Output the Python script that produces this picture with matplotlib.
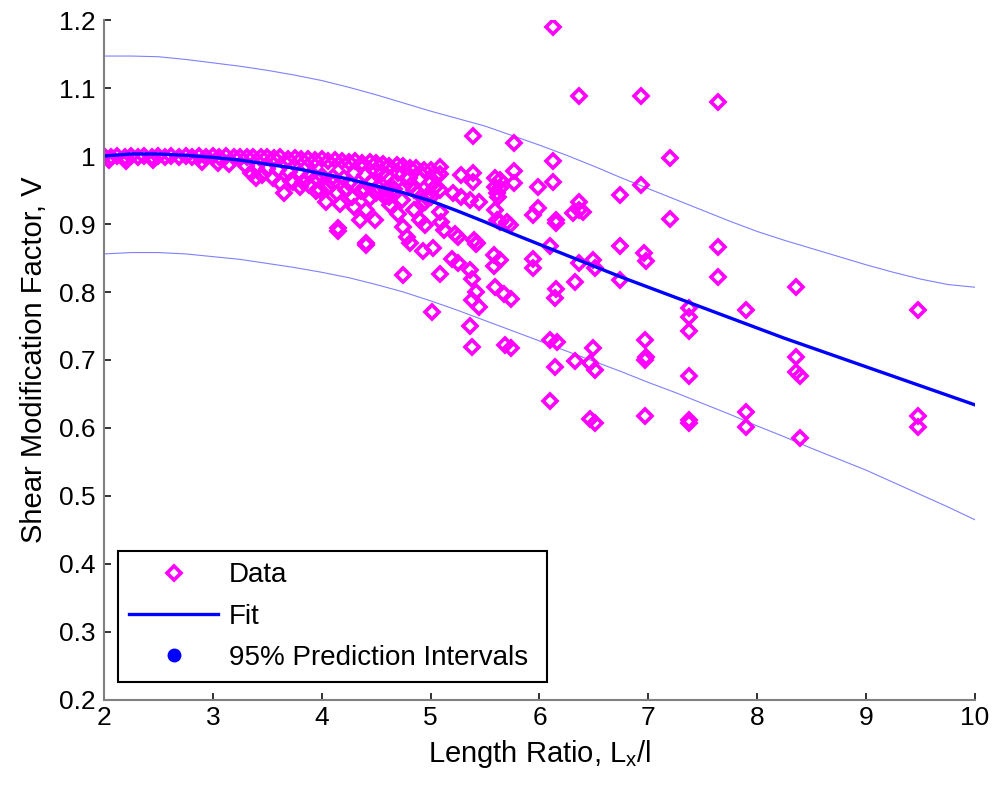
#!/usr/bin/env python3

import matplotlib
matplotlib.use('Agg')
import matplotlib.pyplot as plt
from matplotlib.lines import Line2D

# dense band of points close to V = 1
dense_x = [2.00, 2.06, 2.12, 2.19, 2.25, 2.31, 2.37, 2.44, 2.50, 2.56, 2.62, 2.69, 2.75,
           2.81, 2.87, 2.94, 3.00, 3.06, 3.12, 3.19, 3.25, 3.31, 3.37, 3.44, 3.50, 3.56,
           3.62, 3.69, 3.75, 3.81, 3.87, 3.94, 4.00, 4.06, 4.12, 4.19, 4.25, 4.31, 4.37,
           4.44, 4.50, 4.56, 4.62, 4.69, 4.75, 4.81, 4.87, 4.94, 5.00,
           2.05, 2.20, 2.45, 2.90, 3.05, 3.15, 3.30, 3.40, 3.50, 3.60, 3.70, 3.80, 3.90,
           4.00, 4.10, 4.20, 4.30, 4.40, 4.50, 4.60, 4.70, 4.80, 4.90, 5.00, 5.05,
           3.35, 3.45, 3.55, 3.62, 3.72, 3.80, 3.88, 3.98, 4.06, 4.14, 4.22, 4.28, 4.36,
           4.44, 4.52, 4.58, 4.66, 4.74, 4.82, 4.88, 4.96, 5.04,
           4.25, 4.45, 4.55, 4.68, 4.85, 4.92, 4.30, 4.70, 4.85, 4.95, 5.00, 4.62, 4.40,
           4.10, 3.95]
dense_y = [1.000, 0.999, 1.000, 0.998, 1.000, 0.999, 1.000, 0.998, 1.000, 0.999, 1.000, 0.999, 1.000,
           0.999, 1.000, 0.998, 1.000, 0.999, 1.000, 0.998, 0.999, 0.999, 0.998, 0.999, 0.998, 0.997,
           0.998, 0.996, 0.997, 0.995, 0.996, 0.994, 0.995, 0.993, 0.994, 0.992, 0.991, 0.992, 0.990,
           0.991, 0.989, 0.988, 0.986, 0.987, 0.985, 0.983, 0.982, 0.980, 0.979,
           0.994, 0.993, 0.994, 0.991, 0.990, 0.988, 0.985, 0.983, 0.981, 0.979, 0.977, 0.975, 0.973,
           0.971, 0.969, 0.967, 0.975, 0.972, 0.978, 0.970, 0.975, 0.968, 0.966, 0.962, 0.970,
           0.975, 0.972, 0.968, 0.960, 0.963, 0.955, 0.958, 0.950, 0.955, 0.945, 0.950, 0.940, 0.948,
           0.938, 0.955, 0.940, 0.952, 0.935, 0.958, 0.945, 0.940, 0.955,
           0.960, 0.962, 0.975, 0.962, 0.950, 0.930, 0.925, 0.915, 0.920, 0.932, 0.940, 0.940, 0.950,
           0.960, 0.968]

# scattered points
scatter_x = [3.65, 3.95, 4.04, 4.17, 4.15, 4.35, 4.49, 4.41, 4.41, 4.63, 3.74, 3.83, 3.40,
             4.50, 4.60, 4.15,
             5.77, 5.39, 5.77, 5.77, 5.64, 5.64, 5.09, 5.09, 5.28, 5.39, 5.39, 5.59, 5.59,
             5.61, 5.62, 5.09, 5.21, 5.28, 5.36, 5.44, 5.59, 5.61, 5.64, 5.70, 5.73, 4.75,
             4.78, 4.81, 4.90, 4.95, 5.09, 5.10, 5.12, 5.22, 5.25, 5.40, 5.43, 5.42, 4.93,
             5.02, 5.20, 5.25, 5.58, 5.64, 4.75, 5.09, 5.36, 5.38, 5.42, 5.38, 5.44, 5.59,
             5.67, 5.74, 5.01, 5.36, 5.38, 5.68, 5.74, 4.41, 5.58,
             6.12, 6.36, 6.93, 7.64, 7.20, 6.12, 6.12, 5.99, 6.93, 6.74, 6.36, 6.36, 6.31,
             6.40, 5.99, 5.94, 6.15, 6.15, 7.20, 6.10, 5.94, 5.94, 6.74, 6.96, 6.98, 7.64,
             7.64, 6.36, 6.49, 6.51, 6.74, 6.33, 6.15, 6.14, 8.36, 7.90, 9.48, 7.37, 7.37,
             7.37, 6.10, 6.16, 6.97, 6.49, 6.33, 6.46, 6.51, 6.14, 6.97, 6.98, 8.36, 8.36,
             8.39, 7.37, 6.10, 6.97, 6.46, 6.51, 7.37, 7.37, 7.90, 7.90, 8.39, 9.48, 9.48]
scatter_y = [0.945, 0.948, 0.933, 0.930, 0.894, 0.906, 0.906, 0.921, 0.872, 0.928, 0.962, 0.962, 0.967,
             0.945, 0.950, 0.889,
             1.019, 1.030, 0.978, 0.961, 0.965, 0.953, 0.984, 0.974, 0.972, 0.975, 0.962, 0.967, 0.954,
             0.946, 0.940, 0.950, 0.946, 0.940, 0.935, 0.932, 0.921, 0.906, 0.903, 0.903, 0.898, 0.896,
             0.881, 0.872, 0.906, 0.898, 0.918, 0.903, 0.891, 0.886, 0.881, 0.876, 0.872, 0.870, 0.861,
             0.864, 0.848, 0.842, 0.838, 0.847, 0.825, 0.827, 0.832, 0.819, 0.800, 0.788, 0.778, 0.808,
             0.797, 0.790, 0.771, 0.750, 0.719, 0.722, 0.717, 0.869, 0.854,
             1.189, 1.088, 1.088, 1.080, 0.997, 0.992, 0.962, 0.955, 0.957, 0.942, 0.932, 0.921, 0.916,
             0.918, 0.923, 0.913, 0.906, 0.901, 0.907, 0.868, 0.849, 0.835, 0.868, 0.857, 0.846, 0.866,
             0.822, 0.842, 0.847, 0.835, 0.818, 0.815, 0.805, 0.791, 0.807, 0.774, 0.774, 0.776, 0.763,
             0.742, 0.730, 0.727, 0.730, 0.718, 0.698, 0.695, 0.685, 0.689, 0.700, 0.704, 0.704, 0.683,
             0.676, 0.677, 0.639, 0.618, 0.613, 0.608, 0.612, 0.607, 0.624, 0.602, 0.586, 0.618, 0.602]

# fitted curve and 95% prediction bounds, read every 0.25
fit_x = [2.0, 2.25, 2.5, 2.75, 3.0, 3.25, 3.5, 3.75, 4.0, 4.25, 4.5, 4.75, 5.0, 5.25, 5.5,
         5.75, 6.0, 6.25, 6.5, 6.75, 7.0, 7.25, 7.5, 7.75, 8.0, 8.25, 8.5, 8.75, 9.0, 9.25,
         9.5, 9.75, 10.0]
fit_y = [1.000, 1.003, 1.003, 1.001, 0.998, 0.994, 0.988, 0.982, 0.974, 0.966, 0.956, 0.946,
         0.934, 0.919, 0.903, 0.886, 0.870, 0.854, 0.838, 0.822, 0.807, 0.792, 0.777, 0.762,
         0.747, 0.732, 0.718, 0.704, 0.690, 0.676, 0.662, 0.648, 0.634]
upper_pi = [1.147, 1.147, 1.146, 1.142, 1.137, 1.132, 1.126, 1.119, 1.111, 1.101, 1.090, 1.078,
            1.066, 1.055, 1.044, 1.030, 1.016, 1.001, 0.985, 0.968, 0.952, 0.936, 0.920, 0.904,
            0.889, 0.876, 0.864, 0.852, 0.840, 0.829, 0.819, 0.811, 0.807]
lower_pi = [0.856, 0.858, 0.858, 0.856, 0.852, 0.848, 0.842, 0.836, 0.829, 0.821, 0.811, 0.800,
            0.787, 0.773, 0.758, 0.743, 0.728, 0.713, 0.698, 0.683, 0.667, 0.652, 0.636, 0.620,
            0.603, 0.587, 0.570, 0.554, 0.538, 0.520, 0.502, 0.484, 0.465]

y_ticks = [0.2, 0.3, 0.4, 0.5, 0.6, 0.7, 0.8, 0.9, 1.0, 1.1, 1.2]
y_ticklabels = ['0.2', '0.3', '0.4', '0.5', '0.6', '0.7', '0.8', '0.9', '1', '1.1', '1.2']


def main():
    plt.rcParams['font.family'] = ['Liberation Sans', 'DejaVu Sans']
    plt.rcParams['mathtext.default'] = 'regular'

    fig = plt.figure(figsize=(9.96, 7.94), dpi=100)
    ax = fig.add_axes([0.1044, 0.1184, 0.8745, 0.8564])

    ax.plot(fit_x, upper_pi, color='#8080ff', lw=0.8)
    ax.plot(fit_x, lower_pi, color='#8080ff', lw=0.8)

    xs = dense_x + scatter_x
    ys = dense_y + scatter_y
    data_line, = ax.plot(xs, ys, linestyle='none', marker='D', ms=7.2,
                         mfc='none', mec='#ff00ff', mew=2.6)
    fit_line, = ax.plot(fit_x, fit_y, color='#0000ff', lw=2.4)

    ax.set_xlim(2, 10)
    ax.set_ylim(0.2, 1.2)
    ax.set_xticks(range(2, 11))
    ax.set_yticks(y_ticks)
    ax.set_yticklabels(y_ticklabels)

    for side in ['top', 'right']:
        ax.spines[side].set_visible(False)
    for side in ['left', 'bottom']:
        ax.spines[side].set_color('#808080')
        ax.spines[side].set_linewidth(1.5)
    ax.tick_params(direction='in', length=5, width=1.3, color='#222222', labelsize=19)
    ax.tick_params(axis='y', pad=6)
    ax.tick_params(axis='x', pad=4)

    ax.set_xlabel('Length Ratio, L$_{x}$/l', fontsize=21, labelpad=6)
    ax.set_ylabel('Shear Modification Factor, V', fontsize=21, labelpad=8)

    pi_handle = Line2D([], [], linestyle='none', marker='o', ms=9, color='#0000ff')
    leg = ax.legend([data_line, fit_line, pi_handle],
                    ['Data', 'Fit', '95% Prediction Intervals'],
                    loc='lower left', bbox_to_anchor=(0.0161, 0.0265, 0.4925, 0.188),
                    mode='expand', borderaxespad=0, fontsize=20, fancybox=False,
                    framealpha=1, edgecolor='k', handlelength=3.2, handletextpad=0.4,
                    labelspacing=0.55, borderpad=0.4, numpoints=1)
    leg.get_frame().set_linewidth(1.5)

    plt.savefig('out.png', dpi=100)


if __name__ == "__main__":
    main()
